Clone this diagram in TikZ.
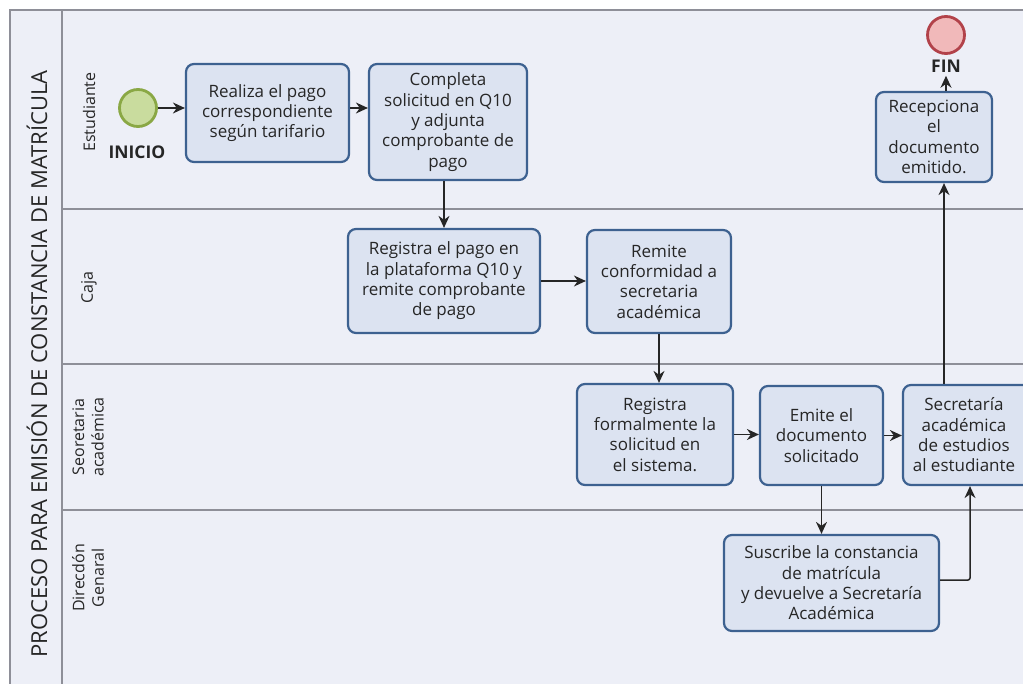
\documentclass[tikz,border=0pt]{standalone}
\usepackage{fontspec}
\setmainfont{Open Sans}
\usetikzlibrary{arrows.meta,positioning}
\definecolor{poolbg}{HTML}{EDEFF7}
\definecolor{frameline}{HTML}{8E8F98}
\definecolor{boxfill}{HTML}{DCE3F1}
\definecolor{boxline}{HTML}{3D6190}
\definecolor{txt}{HTML}{262626}
\definecolor{startfill}{HTML}{C9DC9E}
\definecolor{startline}{HTML}{8AA845}
\definecolor{endfill}{HTML}{F1B9BA}
\definecolor{endline}{HTML}{B2424A}
\tikzset{
  task/.style={draw=boxline, line width=2.2pt, fill=boxfill, rounded corners=8pt,
    align=center, text=txt, inner sep=2pt,
    font=\fontsize{17}{20.3}\selectfont},
  tasktext/.style={align=center, text=txt, inner sep=0pt, font=\fontsize{17}{20.3}\selectfont},
  conn/.style={draw=black!85, line width=1.5pt, -{Stealth[length=12pt,width=11pt]}},
  lanelabel/.style={rotate=90, align=center, text=txt, font=\fontsize{16}{19.5}\selectfont},
  evlabel/.style={font=\fontsize{17.5}{20}\selectfont\bfseries, text=txt},
  sep/.style={draw=frameline, line width=1.6pt}
}
\begin{document}
\begin{tikzpicture}[x=1pt,y=-1pt]
\useasboundingbox (0,0) rectangle (1023,684);
\fill[white] (0,0) rectangle (1023,684);
\fill[poolbg] (10,10) rectangle (1023,684);
% frame
\draw[sep] (10,684) -- (10,10) -- (1023,10);
\draw[sep] (62,10) -- (62,684);
\draw[sep] (62,209) -- (1023,209);
\draw[sep] (62,364) -- (1023,364);
\draw[sep] (62,510) -- (1023,510);
% pool title
\node[rotate=90, text=txt, font=\fontsize{22}{24}\selectfont] (pool) at (37,364) {PROCESO PARA EMISIÓN DE CONSTANCIA DE MATRÍCULA};
% lane labels
\node[lanelabel] (l1) at (89,112) {Estudiante};
\node[lanelabel] (l2) at (89,288) {Caja};
\node[lanelabel] (l3) at (88,437) {Seoretaria\\académica};
\node[lanelabel] (l4) at (88,578) {Direcdón\\Genaral};
% events
\node[circle, draw=startline, fill=startfill, line width=2.8pt, minimum size=37pt, inner sep=0pt] (st) at (138,108) {};
\node[evlabel] (stl) at (137,152) {INICIO};
\node[circle, draw=endline, fill=endfill, line width=2.8pt, minimum size=37pt, inner sep=0pt] (fin) at (946,35) {};
\node[evlabel] (finl) at (946,66) {FIN};
% tasks
\node[task, minimum width=163pt, minimum height=98pt] (b1) at (267.5,113) {Realiza el pago\\correspondiente\\según tarifario};
\node[task, minimum width=158pt, minimum height=116pt] (b2) at (448,122) {Completa\\solicitud en Q10\\y adjunta\\comprobante de\\pago};
\node[task, minimum width=192pt, minimum height=104pt] (b3) at (444,281) {Registra el pago en\\la plataforma Q10 y\\remite comprobante\\de pago};
\node[task, minimum width=144pt, minimum height=103pt] (b4) at (659,281.5) {Remite\\conformidad a\\secretaria\\académica};
\node[task, minimum width=156pt, minimum height=101pt] (b5) at (655,434.5) {Registra\\formalmente la\\solicitud en\\el sistema.};
\node[task, minimum width=123pt, minimum height=99pt] (b6) at (821.5,435.5) {Emite el\\documento\\solicitado};
\node[task, minimum width=134pt, minimum height=100pt] (b7) at (970,435) {};
\node[tasktext] (b7t) at (964,435) {Secretaría\\académica\\de estudios\\al estudiante};
\node[task, minimum width=215pt, minimum height=96pt] (b8) at (831.5,583) {Suscribe la constancia\\de matrícula\\y devuelve a Secretaría\\Académica};
\node[task, minimum width=116pt, minimum height=90pt] (b9) at (934,137) {Recepciona\\el\\documento\\emitido.};
% connectors
\coordinate (turn) at (970,580);
\coordinate (upx) at (944,0);
\draw[conn] (st.east) -- (b1.west |- st.center);
\draw[conn] (b1.east |- st.center) -- (b2.west |- st.center);
\draw[conn] (b3.north |- b2.south) -- (b3.north);
\draw[conn] (b3.east) -- (b4.west |- b3.east);
\draw[conn] (b4.south) -- (b4.south |- b5.north);
\draw[conn] (b5.east) -- (b6.west |- b5.east);
\draw[conn] (b6.east) -- (b7.west |- b6.east);
\draw[conn] (b6.south) -- (b6.south |- b8.north);
\draw[conn, rounded corners=2pt] (b8.east |- turn) -- (turn) -- (turn |- b7.south);
\draw[conn] (upx |- b7.north) -- (upx |- b9.south);
\draw[conn] (finl.south |- b9.north) -- (finl.south);
\end{tikzpicture}
\end{document}
